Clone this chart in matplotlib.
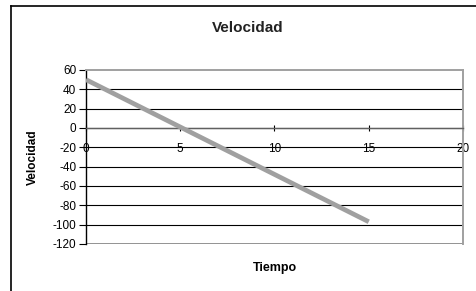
import matplotlib
matplotlib.use("Agg")
import matplotlib.pyplot as plt
from matplotlib.lines import Line2D

plt.rcParams['font.family'] = ['Liberation Sans', 'DejaVu Sans']
plt.rcParams['axes.unicode_minus'] = False

# datos
tiempo = [0, 1, 2, 3, 4, 5, 6, 7, 8, 9, 10, 11, 12, 13, 14, 15]
velocidad = [50, 40.2, 30.4, 20.6, 10.8, 1, -8.8, -18.6, -28.4, -38.2,
             -48, -57.8, -67.6, -77.4, -87.2, -97]
xticks = [0, 5, 10, 15, 20]
yticks = [60, 40, 20, 0, -20, -40, -60, -80, -100, -120]

W, H = 477, 291
fig = plt.figure(figsize=(W / 100, H / 100), dpi=100)

# marco exterior del grafico (solo arriba e izquierda visibles)
fig.add_artist(Line2D([11 / W, 1.0], [1 - 6 / H, 1 - 6 / H], color='black', lw=1.2))
fig.add_artist(Line2D([11 / W, 11 / W], [0, 1 - 6 / H], color='black', lw=1.2))

ax = fig.add_axes([86 / W, 1 - 244 / H, (463 - 86) / W, (244 - 70) / H])
ax.set_xlim(0, 20)
ax.set_ylim(-120, 60)

for y in yticks:
    if y in (60, -120):
        continue
    ax.axhline(y, color='black', lw=0.8, zorder=1)
ax.axhline(-120, color='#808080', lw=1.2, zorder=1)

ax.plot(tiempo, velocidad, color='#a0a0a0', lw=3.4, solid_capstyle='butt', zorder=3)

ax.spines['bottom'].set_position(('data', 0))
ax.spines['bottom'].set_color('#606060')
ax.spines['bottom'].set_linewidth(1.0)
ax.spines['left'].set_color('black')
ax.spines['left'].set_linewidth(1.0)
ax.spines['top'].set_color('#a0a0a0')
ax.spines['top'].set_linewidth(1.4)
ax.spines['right'].set_color('#a0a0a0')
ax.spines['right'].set_linewidth(1.4)

ax.set_xticks(xticks)
ax.set_yticks(yticks)
ax.tick_params(axis='x', direction='inout', length=5, width=0.8, pad=8, labelsize=8.5)
ax.tick_params(axis='y', direction='out', length=5, width=0.8, pad=2, labelsize=8.5)

fig.text(248 / W, 1 - 28 / H, 'Velocidad', fontsize=11, fontweight='bold',
         ha='center', va='center', color='#222222')
ax.set_ylabel('Velocidad', fontsize=8.5, fontweight='bold')
ax.yaxis.set_label_coords(-(86 - 33) / 377, 0.5)
ax.yaxis.label.set_va('center')
ax.set_xlabel('Tiempo', fontsize=9, fontweight='bold')
ax.xaxis.set_label_coords(0.5, -24 / 174)
ax.xaxis.label.set_va('center')

fig.savefig('out.png', dpi=100)
